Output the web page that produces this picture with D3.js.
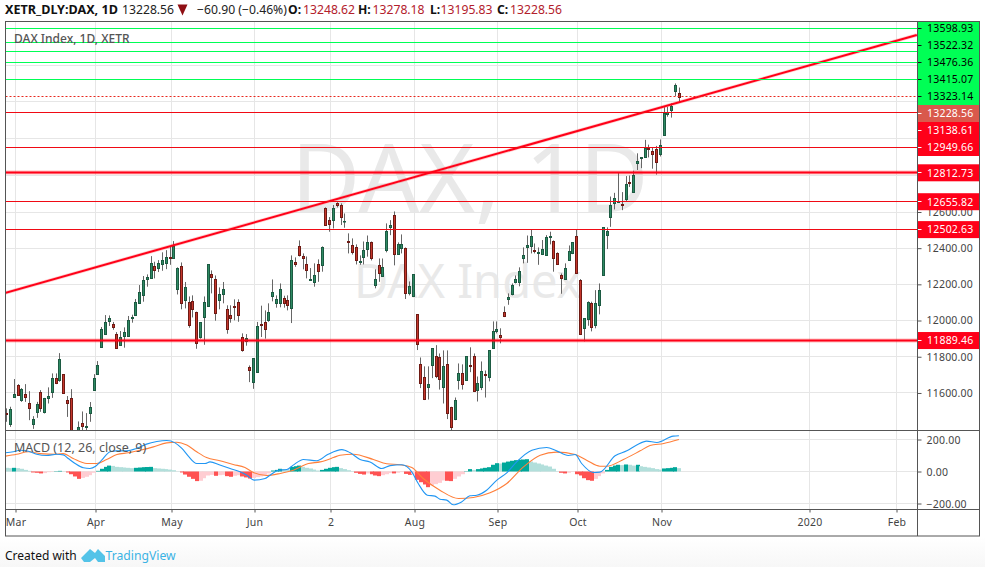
<!DOCTYPE html>
<html>
<head>
<meta charset="utf-8">
<script src="https://cdn.jsdelivr.net/npm/d3@7"></script>
<style>
html,body{margin:0;padding:0;background:#fff;}
svg{display:block;}
text{font-family:"Noto Sans",sans-serif;}
</style>
</head>
<body>
<svg id="c" width="985" height="567"></svg>
<script>
const opens=[
11489,11424,11579,11642,11562,11594,11542,11424,11492,11608,
11491,11568,11603,11680,11669,11702,11564,11575,11370,11370,
11432,11413,11487,11614,11701,11852,11923,11993,11979,11923,
11861,11911,11911,12010,12027,12097,12137,12227,12231,12303,
12286,12310,12314,12351,12349,12170,12299,12110,12100,12106,
12045,11905,12016,12078,12255,12227,12110,12144,12062,12028,
12078,12100,11907,11887,11741,11658,11713,11981,11990,11999,
12133,12095,12095,12122,12111,12067,12321,12410,12354,12310,
12224,12211,12310,12305,12620,12553,12553,12647,12636,12548,
12439,12415,12404,12319,12349,12393,12432,12194,12305,12244,
12388,12515,12581,12365,12397,12399,12150,12133,12034,11758,
11686,11631,11750,11802,11796,11631,11758,11520,11454,11675,
11708,11669,11752,11802,11614,11636,11702,11686,11846,11938,
11918,12045,12115,12144,12211,12211,12343,12404,12415,12388,
12371,12365,12360,12465,12437,12371,12249,12227,12332,12371,
12470,12222,11957,12006,12098,11973,12084,12249,12470,12570,
12647,12659,12642,12669,12763,12708,12862,12891,12899,12945,
12929,12940,12910,13018,13135,13151,13257,13248.62];
const highs=[
11515,11524,11677,11649,11627,11649,11610,11472,11551,11616,
11573,11631,11708,11708,11820,11704,11583,11621,11385,11443,
11498,11489,11550,11704,11776,11964,12030,12028,11992,11936,
11942,11962,12025,12032,12119,12196,12246,12255,12356,12325,
12334,12377,12389,12408,12439,12294,12321,12213,12133,12139,
12049,11990,12133,12310,12277,12249,12183,12213,12084,12084,
12117,12117,11929,11925,11752,11791,11992,12082,12056,12095,
12227,12139,12205,12137,12139,12360,12349,12443,12371,12354,
12290,12316,12338,12410,12625,12572,12638,12653,12647,12592,
12482,12454,12421,12360,12437,12470,12437,12283,12343,12343,
12537,12555,12603,12432,12476,12404,12216,12255,12034,11796,
11747,11747,11846,11864,11818,11835,11835,11524,11575,11763,
11758,11802,11852,11818,11691,11774,11724,11835,11995,11995,
11957,12078,12150,12205,12249,12294,12404,12470,12504,12426,
12404,12445,12472,12491,12443,12377,12260,12316,12415,12432,
12504,12229,12012,12106,12104,12168,12205,12515,12515,12684,
12704,12817,12708,12795,12798,12824,12918,12896,12991,12965,
12949,12958,12993,13168,13171,13190,13301,13278.18];
const lows=[
11441,11413,11579,11585,11551,11551,11450,11402,11463,11496,
11487,11542,11573,11649,11662,11596,11468,11340,11320,11350,
11385,11390,11441,11614,11701,11852,11923,11970,11949,11844,
11861,11850,11911,11988,12027,12093,12104,12187,12231,12233,
12268,12275,12284,12308,12349,12144,12062,12067,11960,12017,
11844,11900,11866,12078,12150,11999,12062,12095,11927,11988,
12001,11993,11828,11861,11660,11623,11713,11909,11900,11993,
12106,12071,12073,12071,12056,11986,12297,12354,12283,12233,
12222,12187,12214,12270,12524,12491,12509,12625,12528,12513,
12371,12365,12310,12308,12310,12353,12332,12178,12214,12244,
12377,12472,12305,12365,12371,12119,12139,12131,11837,11627,
11561,11564,11682,11682,11619,11542,11456,11395,11450,11619,
11619,11669,11715,11608,11553,11616,11575,11664,11846,11929,
11874,12019,12087,12139,12205,12189,12316,12319,12371,12371,
12308,12362,12360,12421,12270,12307,12148,12227,12332,12367,
12266,11923,11885,11971,11940,11957,12034,12248,12395,12518,
12614,12655,12610,12660,12736,12708,12828,12838,12897,12896,
12835,12803,12901,13017,13116,13111,13231,13195.83];
const closes=[
11481,11509,11597,11585,11620,11579,11513,11454,11537,11520,
11570,11581,11680,11651,11785,11597,11548,11370,11350,11415,
11413,11420,11520,11680,11752,11951,11990,12012,11960,11844,
11907,11935,12001,12017,12100,12156,12222,12240,12316,12281,
12316,12332,12349,12347,12413,12288,12093,12183,11971,12062,
11874,11990,12100,12310,12238,12040,12144,12172,11951,12010,
12073,12027,11833,11901,11725,11791,11968,11977,11951,12045,
12156,12117,12172,12095,12084,12332,12310,12360,12343,12277,
12227,12249,12272,12404,12524,12531,12620,12634,12568,12550,
12435,12377,12332,12327,12388,12432,12343,12227,12260,12294,
12493,12526,12365,12421,12421,12150,12189,12255,11868,11653,
11564,11647,11846,11691,11675,11747,11487,11409,11559,11713,
11647,11802,11747,11608,11653,11724,11697,11835,11940,11951,
11907,12023,12128,12194,12227,12272,12360,12415,12470,12380,
12379,12393,12459,12470,12343,12310,12233,12288,12382,12432,
12266,11923,12012,12100,11968,12095,12167,12515,12493,12636,
12675,12662,12636,12752,12758,12802,12875,12896,12945,12938,
12912,12869,12961,13135,13144,13175,13292,13228.56];

const macdHist=[
23,21,23,21,17,10,4,-6,-8,-12,-10,-4,-2,2,4,1,-6,-17,-31,-46,
-40,-33,-23,-8,4,17,29,37,35,29,27,25,23,21,23,25,27,28,29,21,
19,17,15,12,8,1,-6,-19,-33,-46,-60,-58,-42,-25,-21,-27,-23,-21,-29,-33,
-27,-23,-31,-37,-44,-40,-35,-31,-27,-12,6,10,17,15,12,29,33,37,29,23,
19,12,6,10,17,23,27,29,21,15,8,2,-8,-15,-19,-12,-17,-25,-29,-23,
-17,-10,-12,-8,-4,-15,-21,-17,-52,-67,-81,-98,-87,-79,-71,-56,-58,-60,-46,-31,
-17,2,15,10,15,19,23,27,42,52,50,56,62,67,71,73,75,77,62,56,
50,44,37,31,17,2,-8,-12,-8,-2,-17,-25,-42,-54,-58,-46,-29,-12,10,29,
37,42,40,44,42,37,42,33,29,25,21,15,12,19,21,23,27,21];

const macdBars=[-0.3,1.75,3.5,5.7,7.9,10.5,13.2,14.9,16.2,18,20.2,21.9,23.4,25,27.2,28.9,31.6,34.2,36.8,39.5,42.1,44.3,46.1,47.8,50,52.2,53.5,56.1,58.8,61.4,63.2,65.1,68,69.3,71.5,73.7,75.4,78.1,81.6,84.6,88.2,90.4,93,95.6,98.7,100.9,104,106.6,108.3,110.7,112.7,114,115.8,117.5,119.7,121.9,123.7,126.3,129,131.6,134.2,138.2,142.1,144.7,147.8,149.6,151.3,154.4,156.1,160.1,163.2,165.8,168.4,171.1,175.4,176.9];
const macdLine=[117,123,133,127,108,100,108,104,81,50,23,19,33,71,123,129,129,144,171,187,194,179,144,96,50,50,60,40,19,-2,-23,-54,-44,-23,8,12,40,75,67,108,137,117,75,60,19,37,42,-2,-75,-148,-154,-173,-179,-208,-190,-152,-148,-117,-54,-8,60,133,150,129,100,106,50,-6,-4,98,129,165,190,181,221,223];
const signalBars=[-0.3,2.6,5.7,8.8,13.2,14.9,17.5,21.1,23.7,26.3,29,32,35.1,38.6,42.1,44.7,47.4,50,52.6,56.1,59.6,62.7,64.9,68.4,72,75.4,79.4,82.5,86,87.7,91.2,96.5,100,103.5,106.6,109.6,114,118.9,122.8,127.2,131.6,136,140.4,144.7,149.6,152.6,156.1,157.9,162.3,166.7,169.3,172.9,176.9];
const signalLine=[96,108,123,112,108,112,81,50,50,75,106,117,133,154,179,183,165,123,87,67,44,25,-6,-25,-12,8,50,60,87,102,108,75,48,42,25,-44,-117,-169,-162,-133,-75,29,102,121,106,71,33,33,75,129,162,175,200];

const priceTicks=[11600,11800,12000,12200,12400,12600];
const priceGrid=[11600,11800,12000,12200,12400,12600,12800,13000,13200,13400,13600];
const macdTicks=[-200,0,200];
const timeLabels=["Mar","Apr","May","Jun","2","Aug","Sep","Oct","Nov","2020","Feb"];
const timeBars=[2,23,43,65,85,107,129,150,172,211,234];
const greenLevels=[13598.93,13522.32,13476.36,13415.07,13323.14];
const redLevels=[13138.61,12949.66,12655.82,12502.63];
const thickLevels=[12812.73,11889.46];
const lastPrice=13228.56;
const trendBars=[-0.5,239.5];
const trendValues=[12152,13564];
const labelLevels=[13598.93,13522.32,13476.36,13415.07,13323.14,13228.56,13138.61,12949.66,12812.73,12655.82,12502.63,11889.46];

const svg=d3.select("#c");
const L=5.5,R=917.5,OUT=979.5,T=21,M1=430.5,M2=509.5,B=536;
const FRAME="#555";

// bottom tint
const defs=svg.append("defs");
const g0=defs.append("linearGradient").attr("id","foot").attr("x1",0).attr("x2",0).attr("y1",0).attr("y2",1);
g0.append("stop").attr("offset","0").attr("stop-color","#ffffff");
g0.append("stop").attr("offset","1").attr("stop-color","#f7f7f7");
svg.append("rect").attr("x",0).attr("y",537).attr("width",985).attr("height",30).attr("fill","url(#foot)");
defs.append("clipPath").attr("id","cp1").append("rect").attr("x",L).attr("y",T).attr("width",R-L).attr("height",M1-T);
defs.append("clipPath").attr("id","cp2").append("rect").attr("x",L).attr("y",M1).attr("width",R-L).attr("height",M2-M1);

const x=d3.scaleLinear().domain([0,177]).range([7.7,680.3]);
const y=d3.scaleLinear()
  .domain([11000,12000,12600,12812.73,13138.61,13323.14,13598.93])
  .range([501.7,320.5,212,172.8,112.5,79.5,28.5]);
const ym=d3.scaleLinear().domain([-200,200]).range([503.5,439.5]);
const row=v=>Math.floor(v)+.5;

// watermarks
svg.append("text").attr("x",291).attr("y",212).attr("font-size",95).attr("fill","#e9e9e9").text("DAX, 1D");
svg.append("text").attr("x",354).attr("y",298).attr("font-size",47).attr("fill","#e9e9e9").text("DAX Index");

// grids
const grid=svg.append("g").attr("stroke","#e6e6e6").attr("stroke-width",1);
grid.selectAll("line.h").data(priceGrid).join("line").attr("class","h")
  .attr("x1",L).attr("x2",R).attr("y1",d=>row(y(d))).attr("y2",d=>row(y(d)));
grid.selectAll("line.m").data(macdTicks).join("line").attr("class","m")
  .attr("x1",L).attr("x2",R).attr("y1",d=>row(ym(d))).attr("y2",d=>row(ym(d)));
grid.selectAll("line.v").data(timeBars).join("line").attr("class","v")
  .attr("x1",d=>row(x(d))).attr("x2",d=>row(x(d))).attr("y1",T).attr("y2",M2);

// candles
const UP="#2e8a63",UPB="#1c5a42",DN="#c5372c",DNB="#6e1a14",WICK="#666";
const main=svg.append("g").attr("clip-path","url(#cp1)");
const candles=main.selectAll("g.k").data(opens.map((o,i)=>i)).join("g").attr("class","k");
const cx=i=>Math.floor(x(i))-1;
candles.append("rect").attr("x",cx).attr("width",1)
  .attr("y",i=>y(highs[i])).attr("height",i=>Math.max(1,y(lows[i])-y(highs[i]))).attr("fill",WICK);
candles.append("rect").attr("x",i=>cx(i)-.5).attr("width",2)
  .attr("y",i=>Math.round(y(Math.max(opens[i],closes[i])))+.5)
  .attr("height",i=>Math.max(0.5,Math.round(Math.abs(y(opens[i])-y(closes[i])))))
  .attr("fill",i=>closes[i]>=opens[i]?UP:DN)
  .attr("stroke",i=>closes[i]>=opens[i]?UPB:DNB).attr("stroke-width",1);

// levels
const lv=svg.append("g");
const hl=(vals,col,w,op)=>lv.append("g").selectAll("line").data(vals).join("line")
  .attr("x1",L).attr("x2",R).attr("y1",d=>row(y(d))).attr("y2",d=>row(y(d)))
  .attr("stroke",col).attr("stroke-width",w).attr("stroke-opacity",op);
hl(greenLevels,"#00ff55",1,1);
hl(redLevels,"#f00a14",1,1);
hl(thickLevels,"#ff0000",4,.25);
hl(thickLevels,"#ff0018",2,1);
hl([lastPrice],"#e8281e",1,1).attr("stroke-dasharray","2,2");

// trend line
const trend=d3.line().x((d,i)=>x(trendBars[i])-1).y(d=>y(d));
main.append("path").attr("d",trend(trendValues)).attr("fill","none").attr("stroke","#ff0000").attr("stroke-opacity",.2).attr("stroke-width",3.5);
main.append("path").attr("d",trend(trendValues)).attr("fill","none").attr("stroke","#ff0018").attr("stroke-width",2);

// MACD histogram
const lower=svg.append("g").attr("clip-path","url(#cp2)");
lower.selectAll("rect").data(macdHist).join("rect")
  .attr("x",(d,i)=>Math.round(x(i)-3)).attr("width",(d,i)=>Math.round(x(i)+1)-Math.round(x(i)-3))
  .attr("y",d=>Math.min(ym(0),ym(d))).attr("height",d=>Math.abs(ym(d)-ym(0)))
  .attr("fill",(d,i)=>{const p=i?macdHist[i-1]:d+1;
     return d>=0?(d>p?"#00a79a":"#b2dfdb"):(d<p?"#ff5252":"#ffcdd2");});
const ln=(bars,vals,col)=>lower.append("path")
  .attr("d",d3.line().x((d,i)=>x(bars[i])-1).y(d=>ym(d)).curve(d3.curveMonotoneX)(vals))
  .attr("fill","none").attr("stroke",col).attr("stroke-width",1.1);
ln(signalBars,signalLine,"#ff7f3a");
ln(macdBars,macdLine,"#2196f3");

// frame
const fr=svg.append("g").attr("stroke",FRAME).attr("stroke-width",1).attr("fill","none");
fr.append("rect").attr("x",L).attr("y",T+.5).attr("width",OUT-L).attr("height",B-T-.5);
fr.append("line").attr("x1",R).attr("x2",R).attr("y1",T).attr("y2",B);
fr.append("line").attr("x1",L).attr("x2",OUT).attr("y1",M1).attr("y2",M1);
fr.append("line").attr("x1",L).attr("x2",OUT).attr("y1",M2).attr("y2",M2);

// axes
const AF=10.5;
const styleAxis=(g,col)=>{g.select(".domain").remove();
  g.selectAll(".tick line").attr("stroke",col);
  g.selectAll("text").attr("font-family",'"Noto Sans",sans-serif').attr("font-size",AF).attr("fill","#444").attr("letter-spacing",0.02+"em");};
svg.append("g").attr("transform",`translate(${R},0)`)
  .call(d3.axisRight(y).tickValues(priceTicks).tickSize(4).tickPadding(5).tickFormat(d3.format(".2f")))
  .call(styleAxis,FRAME);
const mAxis=svg.append("g").attr("transform",`translate(${R},0)`)
  .call(d3.axisRight(ym).tickValues(macdTicks).tickSize(4).tickPadding(5).tickFormat(d=>d3.format(".2f")(d).replace("-","\u2212")))
  .call(styleAxis,FRAME);
mAxis.selectAll("text").attr("dy","0.42em");
const xt=d3.scaleIdentity().domain([0,985]);
svg.append("g").attr("transform",`translate(0,${M2})`)
  .call(d3.axisBottom(xt).tickValues(timeBars.map(b=>row(x(b)))).tickSize(3).tickPadding(6).tickFormat((d,i)=>timeLabels[i]))
  .call(styleAxis,FRAME);

// price labels with top-down collision sweep
const LH=17;let prev=-1e9;
const labels=labelLevels.map(v=>{const own=y(v);const c=Math.max(own,prev+LH);prev=c;return {v,c};});
const lg=svg.append("g");
const GRN="#00ff55",RED="#ff0019",LAST="#d9594c";
const lblFill=d=>d.v===lastPrice?LAST:(greenLevels.includes(d.v)?GRN:RED);
lg.selectAll("rect").data(labels).join("rect")
  .attr("x",R+.5).attr("y",d=>Math.max(T+1,d.c-LH/2)).attr("width",OUT-R-1)
  .attr("height",d=>d.c-LH/2<T+1?d.c+LH/2-T-1:LH).attr("fill",lblFill);
lg.selectAll("line").data(labels).join("line")
  .attr("x1",R+.5).attr("x2",R+4).attr("y1",d=>row(d.c)).attr("y2",d=>row(d.c))
  .attr("stroke",d=>greenLevels.includes(d.v)?"#111":"#fff");
lg.selectAll("text").data(labels).join("text")
  .attr("x",R+9.5).attr("y",d=>d.c+3.8).attr("font-size",AF).attr("letter-spacing","0.02em")
  .attr("fill",d=>greenLevels.includes(d.v)?"#000":"#fff").text(d=>d.v.toFixed(2));

// titles
svg.append("text").attr("x",14).attr("y",43).attr("font-size",12).attr("font-weight",500).attr("fill","#555").text("DAX Index, 1D, XETR");
svg.append("text").attr("x",14).attr("y",452).attr("font-size",12.5).attr("fill","#555").text("MACD (12, 26, close, 9)");

// header
const H=14;
const hd=svg.append("g").attr("font-size",12.2);
hd.append("text").attr("x",5).attr("y",H).attr("font-weight",700).attr("font-size",12.6).attr("fill","#111").text("XETR_DLY:DAX, 1D");
hd.append("text").attr("x",122).attr("y",H).attr("fill","#222").text("13228.56");
hd.append("path").attr("d","M177.5,4.5h10l-5,11z").attr("fill","#8f0f14");
hd.append("text").attr("x",197).attr("y",H).attr("fill","#222").text("\u221260.90 (\u22120.46%)");
[["O:",288,"13248.62",303],["H:",358,"13278.18",372.5],["L:",430,"13195.83",440.5],["C:",497,"13228.56",510]].forEach(a=>{
  hd.append("text").attr("x",a[1]).attr("y",H).attr("font-weight",700).attr("fill","#111").text(a[0]);
  hd.append("text").attr("x",a[3]).attr("y",H).attr("fill","#b3202c").text(a[2]);
});

// footer
svg.append("text").attr("x",5).attr("y",560).attr("font-size",12).attr("fill","#111").text("Created with");
svg.append("path").attr("d","M81,558 L90,549 L95,553 L98,549 L105,556 L105,562 L98,562 L95,558 L90,562 L84,562 Z").attr("fill","#53c3e8");
svg.append("text").attr("x",105.5).attr("y",560).attr("font-size",12.2).attr("fill","#3bb3e4").text("TradingView");
</script>
</body>
</html>
